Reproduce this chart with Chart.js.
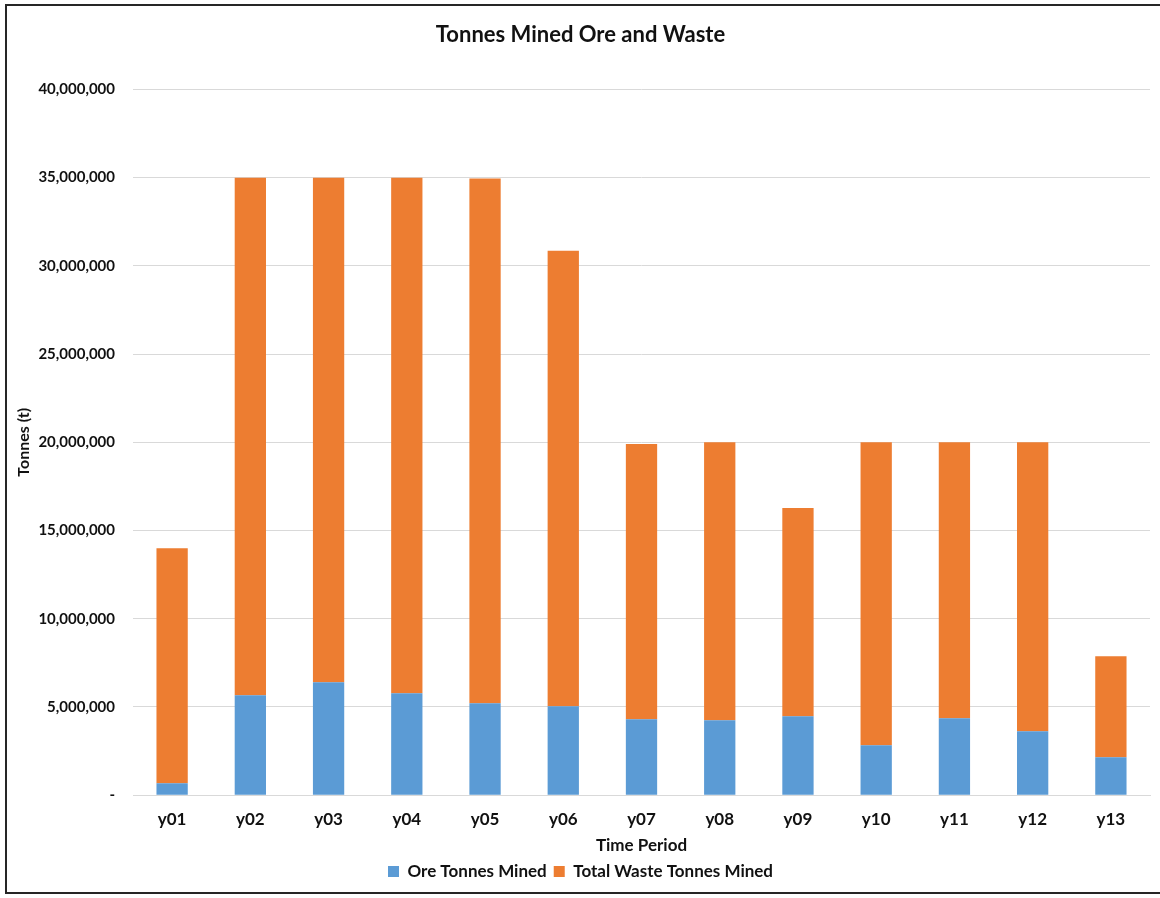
<!DOCTYPE html>
<html>
<head>
<meta charset="utf-8">
<script src="https://cdn.jsdelivr.net/npm/chart.js@4/dist/chart.umd.min.js"></script>
<style>
  html, body { margin: 0; padding: 0; background: #fff; overflow: hidden; }
  #frame {
    position: absolute; left: 5px; top: 4px; width: 1170px; height: 890px;
    border: 2px solid #262626; box-sizing: border-box;
  }
  #wrap { position: absolute; left: 0; top: 0; width: 1160px; height: 898px; }
</style>
</head>
<body>
<div id="frame"></div>
<div id="wrap"><canvas id="chart" width="1160" height="898"></canvas></div>
<script>
// categories
const periods = ['y01', 'y02', 'y03', 'y04', 'y05', 'y06', 'y07', 'y08', 'y09', 'y10', 'y11', 'y12', 'y13'];

// tonnes mined per period
const oreTonnes = [680000, 5670000, 6400000, 5780000, 5210000, 5040000, 4310000, 4250000, 4480000, 2830000, 4360000, 3630000, 2150000];
const wasteTonnes = [13320000, 29330000, 28600000, 29220000, 29740000, 25810000, 15590000, 15750000, 11800000, 17170000, 15640000, 16370000, 5730000];

const fontFamily = 'Lato, "Open Sans", sans-serif';
const textColor = '#111';
const gridColor = '#d9d9d9';

const ctx = document.getElementById('chart').getContext('2d');

let chart = new Chart(ctx, {
    type: 'bar',
    data: {
        labels: periods,
        datasets: [
            {
                label: 'Ore Tonnes Mined',
                data: oreTonnes,
                backgroundColor: '#5b9bd5',
                barPercentage: 0.8,
                categoryPercentage: 0.5
            },
            {
                label: 'Total Waste Tonnes Mined',
                data: wasteTonnes,
                backgroundColor: '#ed7d31',
                barPercentage: 0.8,
                categoryPercentage: 0.5
            }
        ]
    },
    options: {
        responsive: false,
        animation: false,
        layout: { padding: { left: 11, right: 10, top: 10, bottom: 8 } },
        plugins: {
            title: {
                display: true,
                text: 'Tonnes Mined Ore and Waste',
                color: textColor,
                font: { family: fontFamily, size: 22, weight: 'bold' },
                padding: { top: 12, bottom: 41 }
            },
            legend: {
                position: 'bottom',
                labels: {
                    color: textColor,
                    font: { family: fontFamily, size: 17, weight: 'bold' },
                    boxWidth: 11,
                    boxHeight: 11,
                    padding: 7
                }
            },
            tooltip: { enabled: false }
        },
        scales: {
            x: {
                stacked: true,
                grid: { display: false },
                border: { color: gridColor },
                ticks: {
                    color: textColor,
                    font: { family: fontFamily, size: 17, weight: 'bold' },
                    padding: 6
                },
                title: {
                    display: true,
                    text: 'Time Period',
                    color: textColor,
                    font: { family: fontFamily, size: 17, weight: 'bold' },
                    padding: { top: 0, bottom: 0 }
                }
            },
            y: {
                stacked: true,
                min: 0,
                max: 40000000,
                afterFit: axis => { axis.width = 122; },
                grid: { color: gridColor, drawTicks: false },
                border: { display: false },
                ticks: {
                    stepSize: 5000000,
                    color: textColor,
                    font: { family: fontFamily, size: 15, weight: 'bold' },
                    padding: 18,
                    callback: v => v === 0 ? '-' : v.toLocaleString('en-US')
                },
                title: {
                    display: true,
                    text: 'Tonnes (t)',
                    color: textColor,
                    font: { family: fontFamily, size: 16, weight: 'bold' },
                    padding: { top: 3, bottom: 0 }
                }
            }
        }
    }
});
</script>
</body>
</html>
